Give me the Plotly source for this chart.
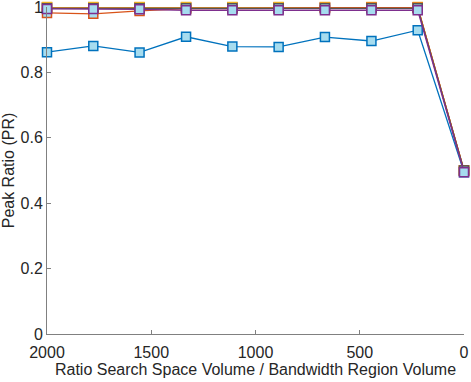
import plotly.graph_objects as go

# x positions: ratio search space volume / bandwidth region volume
ratio = [2000, 1778, 1556, 1333, 1111, 889, 667, 444, 222, 0]

pr_blue = [0.862, 0.881, 0.861, 0.909, 0.879, 0.878, 0.908, 0.896, 0.929, 0.495]
pr_red = [0.999, 0.999, 0.999, 0.999, 0.999, 0.999, 0.999, 0.999, 0.999, 0.500]
pr_yellow = [1.000, 1.000, 1.000, 1.000, 1.000, 1.000, 1.000, 1.000, 1.000, 0.500]
pr_orange = [0.982, 0.979, 0.988, 0.995, 0.995, 0.995, 0.997, 0.998, 0.998, 0.500]
pr_gray = [0.996, 0.996, 0.996, 0.996, 0.996, 0.996, 0.996, 0.996, 0.996, 0.500]
pr_purple = [0.994, 0.994, 0.993, 0.990, 0.990, 0.990, 0.990, 0.990, 0.990, 0.495]

series = [
    ("s1", pr_blue, "#0072BD"),
    ("s2", pr_red, "#A2142F"),
    ("s3", pr_yellow, "#EDB120"),
    ("s4", pr_orange, "#D95319"),
    ("s5", pr_gray, "#555555"),
    ("s6", pr_purple, "#7E2F8E"),
]

fig = go.Figure()
for name, vals, col in series:
    fig.add_trace(go.Scatter(
        x=ratio, y=vals, mode="lines+markers", name=name,
        line=dict(color=col, width=1.3),
        marker=dict(symbol="square", size=9, color="#A6DCEF",
                    line=dict(color=col, width=1.5)),
        cliponaxis=False,
    ))

axis_font = dict(family="Liberation Sans, Arial, sans-serif", size=16, color="#262626")
fig.update_layout(
    width=471, height=382,
    margin=dict(l=47, r=7, t=7, b=48),
    paper_bgcolor="white", plot_bgcolor="white",
    showlegend=False,
    font=axis_font,
)
fig.update_xaxes(
    range=[2000, 0], tickvals=[2000, 1500, 1000, 500, 0],
    showgrid=False, zeroline=False, automargin=False,
    showline=True, linecolor="#808080", linewidth=1,
    ticks="inside", ticklen=4, tickcolor="#808080",
    ticklabeloverflow="allow", ticklabelstandoff=4,
    title=dict(text="Ratio Search Space Volume / Bandwidth Region Volume", standoff=3, font=axis_font),
    tickfont=axis_font,
)
fig.update_yaxes(
    range=[0, 1], tickvals=[0, 0.2, 0.4, 0.6, 0.8, 1],
    ticktext=["0", "0.2", "0.4", "0.6", "0.8", "1"],
    showgrid=False, zeroline=False, automargin=False,
    showline=True, linecolor="#808080", linewidth=1,
    ticks="inside", ticklen=4, tickcolor="#808080",
    ticklabeloverflow="allow",
    title=dict(text="Peak Ratio (PR)", standoff=1, font=axis_font),
    tickfont=axis_font,
)

# page body has a default 8px margin; drop it so the figure sits at the corner
fig.write_html("out.html", config={"displayModeBar": False},
               post_script="document.body.style.margin='0';")
